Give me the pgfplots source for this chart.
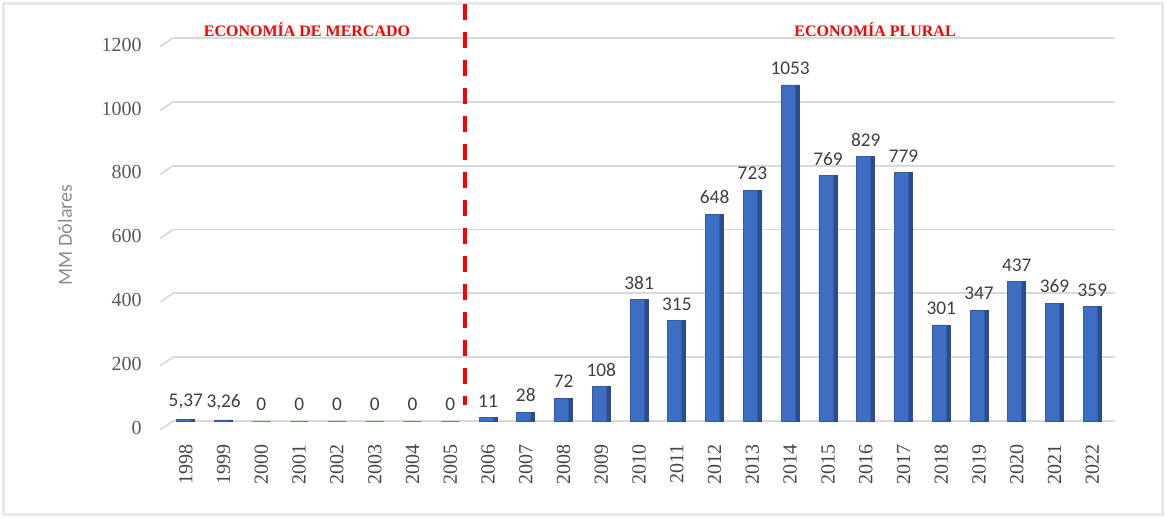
\documentclass[border=0pt]{standalone}
\usepackage{pgfplots}
\pgfplotsset{compat=1.18}
\usepackage{pgfplotstable}
\usepackage{fontspec}
\setmainfont{Liberation Serif}
\newfontfamily\calibri{Carlito}
\usetikzlibrary{calc}

\definecolor{barblue}{HTML}{3E6DC4}
\definecolor{barside}{HTML}{2B4D8E}
\definecolor{gridgray}{HTML}{D9D9D9}
\definecolor{ticktext}{HTML}{5A5A5A}
\definecolor{yeartext}{HTML}{474747}
\definecolor{labtext}{HTML}{404040}
\definecolor{ylab}{HTML}{8C8C8C}

\pgfplotstableread{
x  y     lab
0  5.37  5,37
1  3.26  3,26
2  0     0
3  0     0
4  0     0
5  0     0
6  0     0
7  0     0
8  11    11
9  28    28
10 72    72
11 108   108
12 381   381
13 315   315
14 648   648
15 723   723
16 1053  1053
17 769   769
18 829   829
19 779   779
20 301   301
21 347   347
22 437   437
23 369   369
24 359   359
}\inversion

\begin{document}
\begin{tikzpicture}
\useasboundingbox (0,0) rectangle (874.5pt,388.5pt);
\fill[white] (0,0) rectangle (874.5pt,388.5pt);
\draw[gray!18, line width=2pt] (2.5pt,2.5pt) rectangle (872pt,386pt);

\begin{axis}[
    at={(129.75pt,72.75pt)}, anchor=south west,
    scale only axis,
    width=706.5pt, height=287.25pt,
    xmin=-0.34, xmax=24.6,
    ymin=0, ymax=1200,
    clip=false,
    axis line style={draw=none},
    major tick length=0pt,
    ymajorgrids,
    grid style={gridgray, line width=1.3pt},
    ytick={0,200,...,1200},
    /pgf/number format/1000 sep={},
    /pgf/number format/assume math mode=true,
    yticklabel style={font=\fontsize{15}{15}\selectfont, text=ticktext, xshift=-20pt, yshift=-5pt},
    xtick={0,...,24},
    xticklabels={1998,1999,2000,2001,2002,2003,2004,2005,2006,2007,2008,2009,2010,2011,2012,2013,2014,2015,2016,2017,2018,2019,2020,2021,2022},
    xticklabel style={font=\fontsize{15}{15}\selectfont, text=yeartext, yshift=-14pt, rotate=90, anchor=east},
]
    % darker right face of each bar
    \addplot[ybar, bar width=3pt, bar shift=5.25pt, fill=barside, draw=barside, line width=0.6pt]
        table[x=x, y=y] {\inversion};
    % front face with value labels
    \addplot[ybar, bar width=10.5pt, bar shift=-1.5pt, fill=barblue, draw=barblue!85!black, line width=0.6pt,
        point meta=explicit symbolic,
        nodes near coords,
        every node near coord/.append style={font=\calibri\fontsize{14.5}{14.5}\selectfont, text=labtext, yshift=4pt}]
        table[x=x, y=y, meta=lab] {\inversion};

    % slanted left ends of the gridlines (3-D wall)
    \draw[gridgray, line width=1.3pt] (axis cs:-0.34,0) -- ++(-9.5pt,-6.5pt);
    \draw[gridgray, line width=1.3pt] (axis cs:-0.34,200) -- ++(-9.5pt,-6.5pt);
    \draw[gridgray, line width=1.3pt] (axis cs:-0.34,400) -- ++(-9.5pt,-6.5pt);
    \draw[gridgray, line width=1.3pt] (axis cs:-0.34,600) -- ++(-9.5pt,-6.5pt);
    \draw[gridgray, line width=1.3pt] (axis cs:-0.34,800) -- ++(-9.5pt,-6.5pt);
    \draw[gridgray, line width=1.3pt] (axis cs:-0.34,1000) -- ++(-9.5pt,-6.5pt);
    \draw[gridgray, line width=1.3pt] (axis cs:-0.34,1200) -- ++(-9.5pt,-6.5pt);

    % division between the two periods
    \draw[red, line width=3pt, dash pattern=on 12.5pt off 8.5pt] (axis cs:7.38,1308) -- (axis cs:7.38,50);
\end{axis}

\node[text=ylab, font=\calibri\fontsize{15}{15}\selectfont, rotate=90] at (48.75pt,212.25pt) {MM Dólares};
\node[text=red, font=\bfseries\fontsize{12}{12}\selectfont] at (230.25pt,366pt) {ECONOMÍA DE MERCADO};
\node[text=red, font=\bfseries\fontsize{12}{12}\selectfont] at (656.25pt,366pt) {ECONOMÍA PLURAL};
\end{tikzpicture}
\end{document}
